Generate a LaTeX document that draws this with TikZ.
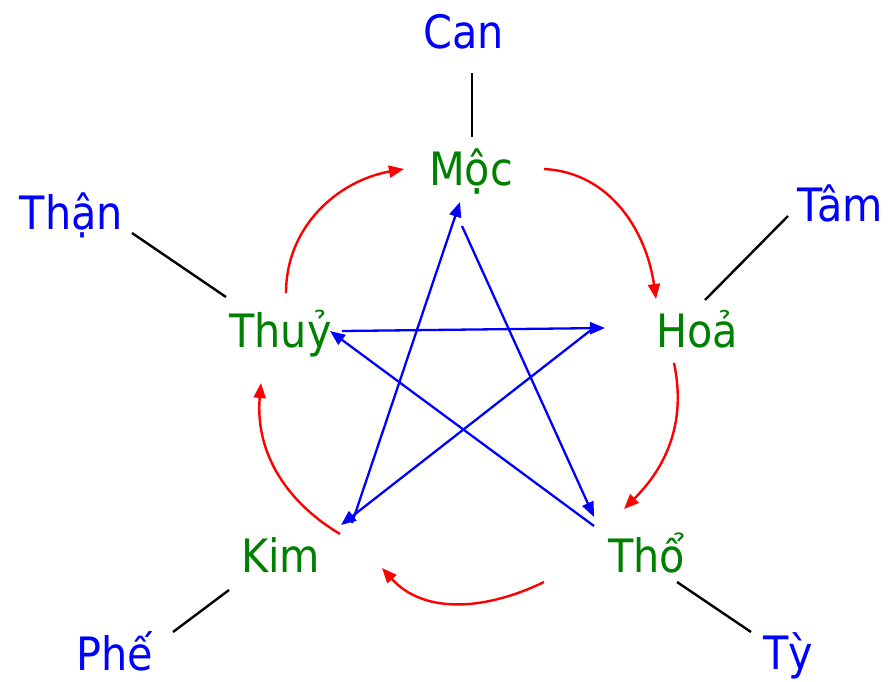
\documentclass[tikz,border=0pt]{standalone}
\usepackage{fontspec}
\setmainfont{DejaVu Sans Condensed}
\usetikzlibrary{arrows.meta}
\definecolor{elgreen}{RGB}{0,128,0}
\definecolor{orgblue}{RGB}{0,0,255}
\definecolor{cyred}{RGB}{255,0,0}
\tikzset{
  elem/.style={text=elgreen, anchor=base, inner sep=0pt, font=\fontsize{46}{50}\selectfont},
  organ/.style={text=orgblue, anchor=base, inner sep=0pt, font=\fontsize{46}{50}\selectfont},
  link/.style={draw=black, line width=2.4pt},
  gen/.style={draw=cyred, line width=2.4pt, -{Triangle[length=15pt,width=12pt]}},
  ctrl/.style={draw=orgblue, line width=2.3pt, -{Triangle[length=15pt,width=12pt]}}
}
\begin{document}
\begin{tikzpicture}[x=1pt,y=1pt]
\useasboundingbox (0,0) rectangle (888,-681);
% elements
\node[elem] (moc) at (471,-185) {Mộc};
\node[elem] (hoa) at (697,-347) {Hoả};
\node[elem] (tho) at (646.5,-572) {Thổ};
\node[elem] (kim) at (280.5,-572) {Kim};
\node[elem] (thuy) at (280.5,-347) {Thuỷ};
% organs
\node[organ] (can) at (464,-48) {Can};
\node[organ] (tam) at (840,-221) {Tâm};
\node[organ] (ty) at (788.5,-669) {Tỳ};
\node[organ] (phe) at (115,-670) {Phế};
\node[organ] (than) at (71.5,-229) {Thận};
% link ends
\coordinate (lcan1) at (472,-73);  \coordinate (lcan2) at (472,-137);
\coordinate (ltam1) at (788,-216); \coordinate (ltam2) at (705,-300);
\coordinate (lty1) at (751,-632);  \coordinate (lty2) at (677,-582);
\coordinate (lphe1) at (173,-632); \coordinate (lphe2) at (229,-590);
\coordinate (lthan1) at (132,-233);\coordinate (lthan2) at (226,-297);
\draw[link] (lcan1) -- (lcan2);
\draw[link] (ltam1) -- (ltam2);
\draw[link] (lty1) -- (lty2);
\draw[link] (lphe1) -- (lphe2);
\draw[link] (lthan1) -- (lthan2);
% generating cycle ends
\coordinate (r1a) at (286,-293); \coordinate (r1b) at (404,-169);
\coordinate (r2a) at (544,-169); \coordinate (r2b) at (656,-299);
\coordinate (r3a) at (674,-363); \coordinate (r3b) at (624,-509);
\coordinate (r4a) at (544,-582); \coordinate (r4b) at (382,-568);
\coordinate (r5a) at (340,-534); \coordinate (r5b) at (261,-383);
\draw[gen] (r1a) to[out=90,in=190] (r1b);
\draw[gen] (r2a) to[out=-3,in=98] (r2b);
\draw[gen] (r3a) to[out=-78,in=45] (r3b);
\draw[gen] (r4a) to[out=206,in=312] (r4b);
\draw[gen] (r5a) to[out=149,in=265] (r5b);
% controlling star ends
\coordinate (b1a) at (342,-331); \coordinate (b1b) at (605,-328);
\coordinate (b2a) at (591,-330); \coordinate (b2b) at (341,-525);
\coordinate (b3a) at (352,-523); \coordinate (b3b) at (460,-202);
\coordinate (b4a) at (462,-226); \coordinate (b4b) at (594,-517);
\coordinate (b5a) at (594,-526); \coordinate (b5b) at (330,-331);
\draw[ctrl] (b1a) -- (b1b);
\draw[ctrl] (b2a) -- (b2b);
\draw[ctrl] (b3a) -- (b3b);
\draw[ctrl] (b4a) -- (b4b);
\draw[ctrl] (b5a) -- (b5b);
\end{tikzpicture}
\end{document}
